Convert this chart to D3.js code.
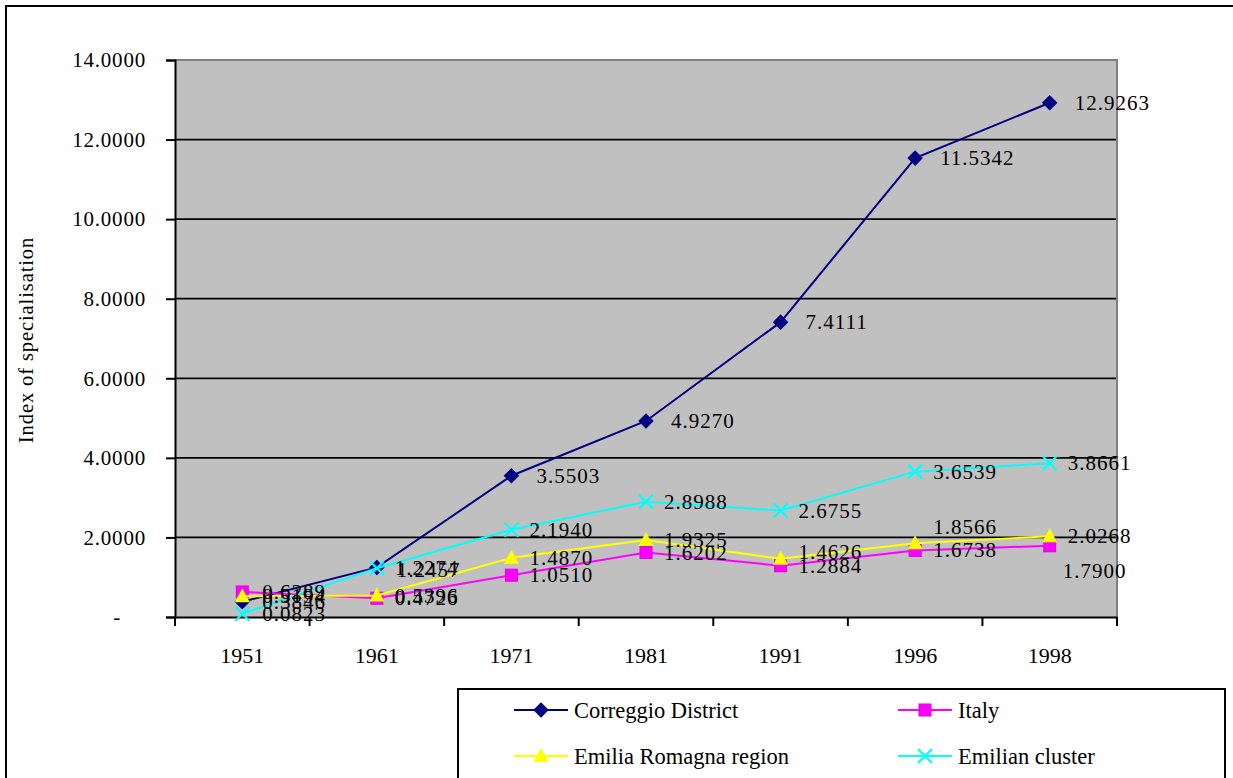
<!DOCTYPE html>
<html>
  <head>
    <meta charset="utf-8">
    <title>Index of specialisation</title>
    <style>
      body { margin: 0; background: #fff; }
      svg text { font-family: "Times New Roman", "Liberation Serif", Tinos, Times, serif; fill: #000; }
      .tick-label { font-size: 21px; letter-spacing: 0.8px; }
      .data-label { font-size: 21px; letter-spacing: 1px; }
      .legend-text { font-size: 22.5px; }
    </style>
  </head>
  <body>
    <div id="chart"></div>
    <script src="https://cdnjs.cloudflare.com/ajax/libs/d3/7.8.5/d3.min.js"></script>
    <script>
    // values
    var years = ['1951', '1961', '1971', '1981', '1991', '1996', '1998'];
    var correggio = [0.3846, 1.2457, 3.5503, 4.9270, 7.4111, 11.5342, 12.9263];
    var italy = [0.6289, 0.4726, 1.0510, 1.6202, 1.2884, 1.6738, 1.7900];
    var emilia = [0.5194, 0.5396, 1.4870, 1.9325, 1.4626, 1.8566, 2.0268];
    var cluster = [0.0823, 1.2274, 2.1940, 2.8988, 2.6755, 3.6539, 3.8661];
    var yTicks = [0, 2, 4, 6, 8, 10, 12, 14];

    var series = [
      {name: 'Correggio District', values: correggio, color: '#000080', marker: 'diamond', dx: 25},
      {name: 'Italy', values: italy, color: '#FF00FF', marker: 'square', dx: 18},
      {name: 'Emilia Romagna region', values: emilia, color: '#FFFF00', marker: 'triangle', dx: 18},
      {name: 'Emilian cluster', values: cluster, color: '#00FFFF', marker: 'cross', dx: 18}
    ];

    // a few labels were moved by hand in the original
    var labelShift = {
      'Italy_6': [-5, 25],
      'Emilia Romagna region_4': [0, -7],
      'Emilia Romagna region_5': [0, -16],
      'Correggio District_0': [-5, 0],
      'Correggio District_1': [-5, 3],
      'Italy_0': [2, 0],
      'Emilia Romagna region_0': [2, 0],
      'Emilian cluster_0': [2, 0]
    };

    var W = 1233, H = 778;
    var plot = {left: 175, top: 60, right: 1117, bottom: 617};

    var svg = d3.select('#chart').append('svg').attr('width', W).attr('height', H);

    // outer chart border
    svg.append('rect').attr('x', 6).attr('y', 6).attr('width', 1240).attr('height', 800)
       .style('fill', 'none').style('stroke', '#000').style('stroke-width', 2);

    var x = d3.scaleBand().domain(years).range([plot.left, plot.right]).padding(0);
    var y = d3.scaleLinear().domain([0, 14]).range([plot.bottom, plot.top]);
    var cx = function(i) { return x(years[i]) + x.bandwidth() / 2; };

    svg.append('rect').attr('x', plot.left).attr('y', plot.top)
       .attr('width', plot.right - plot.left).attr('height', plot.bottom - plot.top)
       .style('fill', '#C0C0C0');

    // gridlines
    svg.append('g').selectAll('line').data(yTicks.filter(function(d) { return d > 0 && d < 14; }))
       .enter().append('line')
       .attr('x1', plot.left).attr('x2', plot.right)
       .attr('y1', function(d) { return y(d); }).attr('y2', function(d) { return y(d); })
       .style('stroke', '#000').style('stroke-width', 1.8);

    // plot border top / right
    svg.append('path')
       .attr('d', 'M' + plot.left + ',' + plot.top + 'H' + plot.right + 'V' + plot.bottom)
       .style('fill', 'none').style('stroke', '#808080').style('stroke-width', 2);

    // y axis
    var yAxis = svg.append('g').attr('transform', 'translate(' + plot.left + ',0)')
       .call(d3.axisLeft(y).tickValues(yTicks).tickSize(9).tickPadding(20)
         .tickFormat(function(d) { return d === 0 ? '-' : d.toFixed(4); }));
    yAxis.attr('font-family', null).attr('font-size', null);
    yAxis.select('.domain').style('stroke', '#000').style('stroke-width', 2);
    yAxis.selectAll('.tick line').style('stroke', '#000').style('stroke-width', 2);
    yAxis.selectAll('.tick text').attr('class', 'tick-label')
       .attr('dx', function(d) { return d === 0 ? -25 : 0; });

    // x axis: labels at band centers, ticks at band edges
    var xAxis = svg.append('g').attr('transform', 'translate(0,' + plot.bottom + ')')
       .call(d3.axisBottom(x).tickSize(0).tickPadding(30));
    xAxis.attr('font-family', null).attr('font-size', null);
    xAxis.select('.domain').style('stroke', '#000').style('stroke-width', 2);
    xAxis.selectAll('.tick text').attr('class', 'tick-label').style('letter-spacing', '0px').style('font-size', '22px');
    xAxis.selectAll('.edge').data(years.concat(['end'])).enter().append('line')
       .attr('class', 'edge')
       .attr('x1', function(d) { return d === 'end' ? plot.right : x(d); })
       .attr('x2', function(d) { return d === 'end' ? plot.right : x(d); })
       .attr('y1', 0).attr('y2', 9)
       .style('stroke', '#000').style('stroke-width', 2);

    // y title
    svg.append('text').attr('transform', 'translate(33,340) rotate(-90)')
       .attr('text-anchor', 'middle').style('font-size', '20.5px').style('letter-spacing', '0.9px')
       .text('Index of specialisation');

    function drawMarker(g, type, color) {
      if (type === 'diamond') {
        g.append('path').attr('d', d3.symbol(d3.symbolSquare, 100)()).attr('transform', 'rotate(45)')
         .style('fill', color).style('stroke', color);
      } else if (type === 'square') {
        g.append('rect').attr('x', -6).attr('y', -6).attr('width', 12).attr('height', 12)
         .style('fill', color).style('stroke', '#E000E0').style('stroke-width', 1);
      } else if (type === 'triangle') {
        g.append('path').attr('d', 'M0,-8L7.5,6L-7.5,6Z').style('fill', color);
      } else {
        g.append('path').attr('d', 'M-7,-7L7,7M-7,7L7,-7').style('stroke', color).style('stroke-width', 2.2).style('fill', 'none');
      }
    }

    var line = d3.line().x(function(d, i) { return cx(i); }).y(function(d) { return y(d); });

    series.forEach(function(s) {
      var g = svg.append('g');
      g.append('path').datum(s.values).attr('d', line)
       .style('fill', 'none').style('stroke', s.color).style('stroke-width', 2);
      s.values.forEach(function(v, i) {
        var m = g.append('g').attr('transform', 'translate(' + cx(i) + ',' + y(v) + ')');
        drawMarker(m, s.marker, s.color);
      });
    });

    // data labels on top
    var labels = svg.append('g');
    series.forEach(function(s) {
      s.values.forEach(function(v, i) {
        var sh = labelShift[s.name + '_' + i] || [0, 0];
        labels.append('text').attr('class', 'data-label')
          .attr('x', cx(i) + s.dx + sh[0]).attr('y', y(v) + sh[1])
          .attr('dominant-baseline', 'central')
          .text(v.toFixed(4));
      });
    });

    // legend
    var legend = svg.append('g');
    legend.append('rect').attr('x', 458).attr('y', 689).attr('width', 767).attr('height', 120)
      .style('fill', '#fff').style('stroke', '#000').style('stroke-width', 2);
    var legPos = [[514, 710], [898, 710], [514, 756], [898, 756]];
    series.forEach(function(s, k) {
      var p = legPos[k];
      var it = legend.append('g').attr('transform', 'translate(' + p[0] + ',' + p[1] + ')');
      it.append('line').attr('x1', 0).attr('x2', 54).style('stroke', s.color).style('stroke-width', 2);
      var m = it.append('g').attr('transform', 'translate(27,0)');
      drawMarker(m, s.marker, s.color);
      it.append('text').attr('class', 'legend-text').attr('x', 60).attr('dominant-baseline', 'central').text(s.name);
    });
    </script>
  </body>
</html>
